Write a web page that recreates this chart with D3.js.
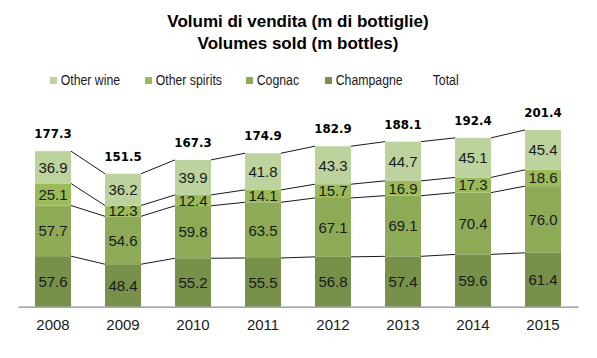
<!DOCTYPE html>
<html><head><meta charset="utf-8">
<script src="https://cdn.jsdelivr.net/npm/d3@7/dist/d3.min.js"></script>
<style>body{margin:0;background:#fff}svg{display:block}</style>
</head><body><svg id="c" width="597" height="358"></svg>
<script>
const years = ["2008","2009","2010","2011","2012","2013","2014","2015"];
const champagne = [57.6,48.4,55.2,55.5,56.8,57.4,59.6,61.4];
const cognac = [57.7,54.6,59.8,63.5,67.1,69.1,70.4,76.0];
const otherSpirits = [25.1,12.3,12.4,14.1,15.7,16.9,17.3,18.6];
const otherWine = [36.9,36.2,39.9,41.8,43.3,44.7,45.1,45.4];
const totals = [177.3,151.5,167.3,174.9,182.9,188.1,192.4,201.4];
const seriesNames = ["Champagne","Cognac","Other spirits","Other wine"];
const legendLabels = ["Other wine","Other spirits","Cognac","Champagne","Total"];
const titleLines = ["Volumi di vendita (m di bottiglie)","Volumes sold (m bottles)"];

const colors = {"Champagne":"#77904a","Cognac":"#8dab57","Other spirits":"#9bbb59","Other wine":"#bdd39e"};
const seriesData = [champagne, cognac, otherSpirits, otherWine];

const svg = d3.select("#c");
const x = d3.scaleBand().domain(years).range([18,578]).paddingInner(0.486).paddingOuter(0.243);
const y = d3.scaleLinear().domain([0,200]).range([306.7,131.2]);
const bw = x.bandwidth();

const rows = years.map((yr,i)=>{const o={year:yr}; seriesNames.forEach((s,k)=>o[s]=seriesData[k][i]); return o;});
const stack = d3.stack().keys(seriesNames)(rows);

// title
svg.append("g").selectAll("text").data(titleLines).join("text")
  .attr("x",298).attr("y",(d,i)=>27+i*22).attr("text-anchor","middle")
  .attr("font-family","Liberation Sans, Arial, sans-serif").attr("font-weight","bold")
  .attr("font-size",17).attr("fill","#000").text(d=>d);

// bars
stack.forEach(layer=>{
  const g = svg.append("g");
  g.selectAll("rect").data(layer).join("rect")
    .attr("x",d=>x(d.data.year)).attr("width",bw)
    .attr("y",d=>y(d[1])).attr("height",d=>y(d[0])-y(d[1]))
    .attr("fill",colors[layer.key]);
  g.selectAll("text").data(layer).join("text")
    .attr("x",d=>x(d.data.year)+bw/2).attr("y",d=>(y(d[0])+y(d[1]))/2)
    .attr("dy","0.36em").attr("text-anchor","middle")
    .attr("font-family","Liberation Sans, Arial, sans-serif").attr("font-size",15)
    .attr("fill","#1a1a1a").text(d=>d.data[layer.key].toFixed(1));
});

// connector lines
const levels = [0,1,2].map(k=>stack[k].map(d=>d[1]));
levels.push(totals);
levels.forEach(vals=>{
  const segs = d3.range(years.length-1).map(i=>[x(years[i])+bw, y(vals[i]), x(years[i+1]), y(vals[i+1])]);
  svg.append("g").selectAll("line").data(segs).join("line")
    .attr("x1",d=>d[0]).attr("y1",d=>d[1]).attr("x2",d=>d[2]).attr("y2",d=>d[3])
    .attr("stroke","#1a1a1a").attr("stroke-width",1);
});

// total labels
svg.append("g").selectAll("text").data(totals).join("text")
  .attr("x",(d,i)=>x(years[i])+bw/2).attr("y",d=>y(d)-13)
  .attr("text-anchor","middle").attr("font-family","DejaVu Sans, Verdana, sans-serif")
  .attr("font-weight","bold").attr("font-size",11.8).attr("fill","#000").text(d=>d.toFixed(1));

// x axis
const xAxis = svg.append("g").attr("transform","translate(0,306.7)")
  .call(d3.axisBottom(x).tickSize(0).tickPadding(0));
xAxis.select(".domain").attr("stroke","#8c8c8c").attr("stroke-width",1.3);
xAxis.selectAll("text").attr("font-family","Liberation Sans, Arial, sans-serif")
  .attr("font-size",15).attr("fill","#1a1a1a").attr("dy",null).attr("y",23.5);

// legend
const legX = [50,145,246,325,432.7];
const legColors = [colors["Other wine"],colors["Other spirits"],colors["Cognac"],colors["Champagne"],null];
const lg = svg.append("g").selectAll("g").data(legendLabels).join("g");
lg.filter((d,i)=>legColors[i]).append("rect")
  .attr("x",(d,i)=>legX[i]).attr("y",77).attr("width",7).attr("height",7)
  .attr("fill",(d,i)=>legColors[legendLabels.indexOf(d)]);
lg.append("text")
  .attr("transform",(d,i)=>`translate(${i<4?legX[i]+10.7:legX[i]},85) scale(0.82,1)`)
  .attr("font-family","Liberation Sans, Arial, sans-serif")
  .attr("font-size",15).attr("fill","#1a1a1a").text(d=>d);
</script></body></html>
